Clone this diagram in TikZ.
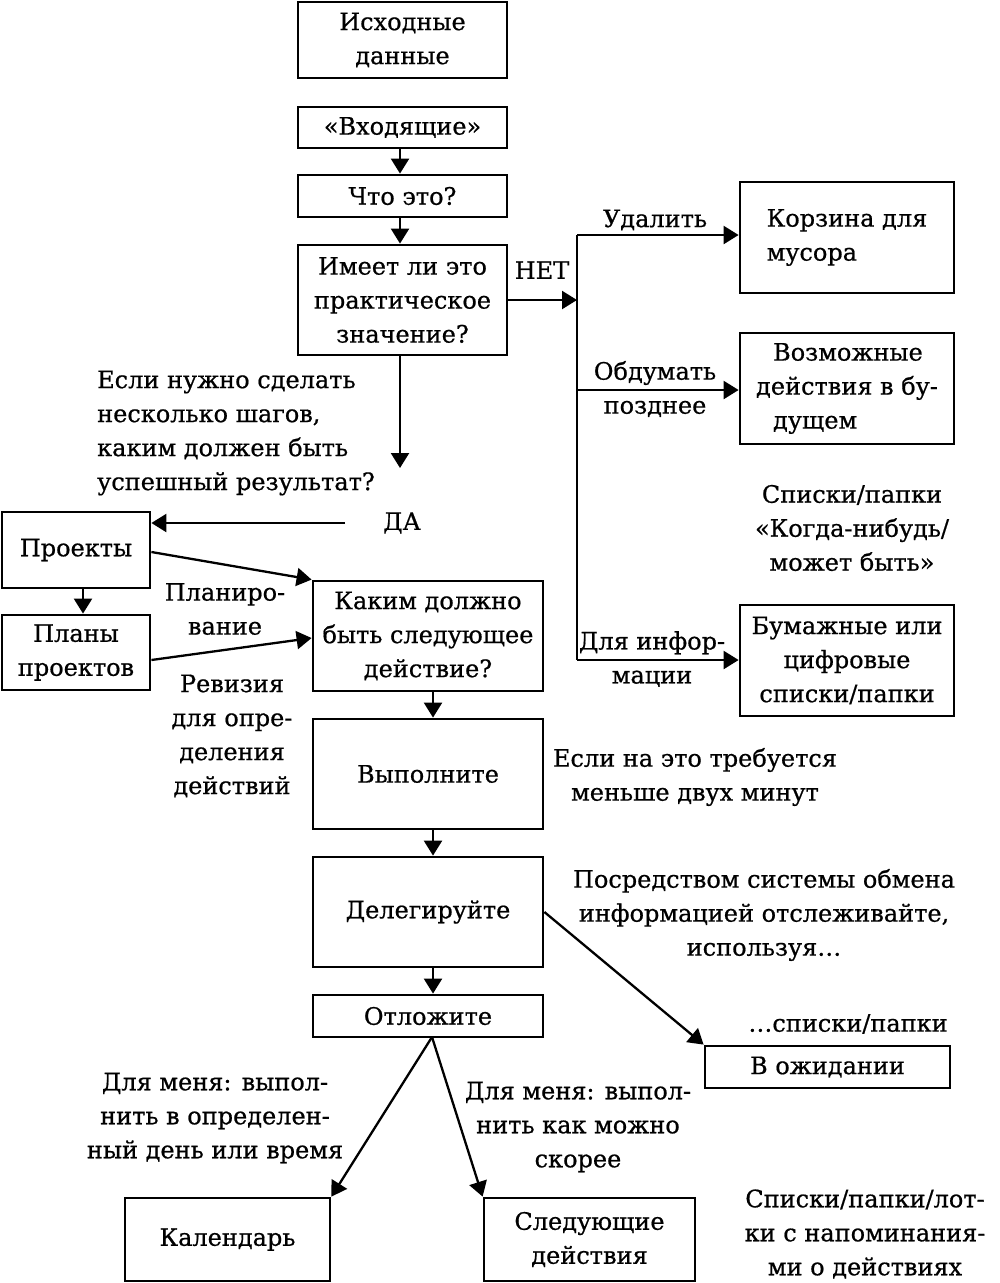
\documentclass[tikz,border=0pt]{standalone}
\usepackage{fontspec}
\setmainfont{DejaVu Serif}[FakeBold=0.7]
\usetikzlibrary{arrows.meta}
\begin{document}
\begin{tikzpicture}[x=1pt,y=-1pt,
  txt/.style={font=\fontsize{24}{34}\selectfont},
  box/.style={txt, draw, line width=2.8pt, inner sep=0pt, align=center},
  lbl/.style={txt, inner sep=0pt, align=center},
  conn/.style={line width=2.3pt},
  arr/.style={conn, -{Triangle[width=18pt,length=15pt]}}]
\useasboundingbox (0,0) rectangle (1000,1283);

% main column
\node[box, minimum width=209pt, minimum height=76pt] (src) at (402.5,40) {Исходные\\данные};
\node[box, minimum width=209pt, minimum height=41pt] (inbox) at (402.5,127.5) {«Входящие»};
\node[box, minimum width=209pt, minimum height=42pt] (what) at (402.5,196) {Что это?};
\node[box, minimum width=209pt, minimum height=110pt] (act) at (402.5,300) {Имеет ли это\\практическое\\значение?};

% right column
\node[box, minimum width=214pt, minimum height=111pt, align=left] (trash) at (847,237.5) {Корзина для\\мусора};
\node[box, minimum width=214pt, minimum height=111pt, align=left] (maybe) at (847,388.5) {\hspace*{17pt}Возможные\\действия в бу-\\\hspace*{17pt}дущем};
\node[box, minimum width=214pt, minimum height=111pt] (ref) at (847,660.5) {Бумажные или\\цифровые\\списки/папки};

% left
\node[box, minimum width=148pt, minimum height=76pt] (proj) at (76,550) {Проекты};
\node[box, minimum width=148pt, minimum height=75pt] (plans) at (76,652.5) {Планы\\проектов};

% central lower column
\node[box, minimum width=230pt, minimum height=110pt] (next) at (428,636) {Каким должно\\быть следующее\\действие?};
\node[box, minimum width=230pt, minimum height=110pt] (do) at (428,774) {Выполните};
\node[box, minimum width=230pt, minimum height=110pt] (deleg) at (428,912) {Делегируйте};
\node[box, minimum width=230pt, minimum height=42pt] (defer) at (428,1016) {Отложите};
\node[box, minimum width=245pt, minimum height=42pt] (wait) at (827.5,1067) {В ожидании};
\node[box, minimum width=205pt, minimum height=83pt] (cal) at (227.5,1239.5) {Календарь};
\node[box, minimum width=211pt, minimum height=83pt] (nact) at (589.5,1239.5) {Следующие\\действия};

% labels
\node[lbl, anchor=west, align=left] (qmulti) at (97,433) {Если нужно сделать\\несколько шагов,\\каким должен быть\\успешный результат?};
\node[lbl] (yes) at (402,523) {ДА};
\node[lbl] (no) at (542,270) {НЕТ};
\node[lbl] (ldel) at (655,220) {Удалить};
\node[lbl] (lthink) at (655,389) {Обдумать\\позднее};
\node[lbl] (linfo) at (652,659) {Для инфор-\\мации};
\node[lbl] (lsome) at (852,528) {Списки/папки\\«Когда-нибудь/\\может быть»};
\node[lbl] (lplan) at (225,609) {Планиро-\\вание};
\node[lbl] (lrev) at (232,736) {Ревизия\\для опре-\\деления\\действий};
\node[lbl] (ltwo) at (695,777) {Если на это требуется\\меньше двух минут};
\node[lbl] (ltrack) at (764,915) {Посредством системы обмена\\информацией отслеживайте,\\используя…};
\node[lbl] (llist) at (848,1024) {…списки/папки};
\node[lbl] (lday) at (215,1118) {Для меня: выпол-\\нить в определен-\\ный день или время};
\node[lbl] (lasap) at (578,1127) {Для меня: выпол-\\нить как можно\\скорее};
\node[lbl] (lremind) at (865,1234) {Списки/папки/лот-\\ки с напоминания-\\ми о действиях};

% coordinates
\coordinate (downend) at (400,468);
\coordinate (yesstart) at (345,523);
\coordinate (split) at (577,300);
\coordinate (vtop) at (577,235);
\coordinate (vmid) at (577,390);
\coordinate (vbot) at (577,660);
\coordinate (deferpt) at (432,1037);

% connectors
\draw[arr] (inbox.south -| 400,0) -- (what.north -| 400,0);
\draw[arr] (what.south -| 400,0) -- (act.north -| 400,0);
\draw[arr] (act.south -| 400,0) -- (downend);
\draw[arr] (yesstart) -- (proj.east |- yesstart);
\draw[arr] (proj.south -| 83,0) -- (plans.north -| 83,0);
\draw[arr] (proj.east |- 0,552) -- (next.north west);
\draw[arr] (plans.east |- 0,660) -- (next.west |- 0,638);
\draw[arr] (act.east |- split) -- (split);
\draw[conn] (vtop) -- (vbot);
\draw[arr] (vtop) -- (trash.west |- vtop);
\draw[arr] (vmid) -- (maybe.west |- vmid);
\draw[arr] (vbot) -- (ref.west |- vbot);
\draw[arr] (next.south -| 433,0) -- (do.north -| 433,0);
\draw[arr] (do.south -| 433,0) -- (deleg.north -| 433,0);
\draw[arr] (deleg.south -| 433,0) -- (defer.north -| 433,0);
\draw[arr] (deleg.east) -- (wait.north west);
\draw[arr] (deferpt) -- (cal.north east);
\draw[arr] (deferpt) -- (nact.north west);
\end{tikzpicture}
\end{document}
